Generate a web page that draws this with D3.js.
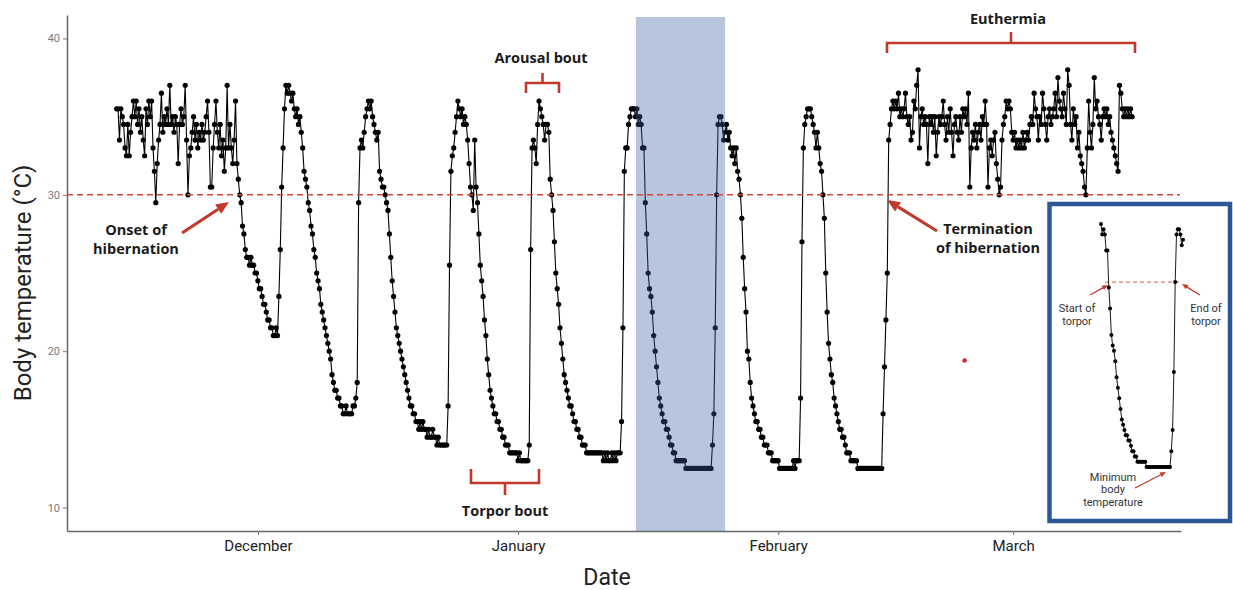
<!DOCTYPE html>
<html>
<head>
<meta charset="utf-8">
<script src="https://cdn.jsdelivr.net/npm/d3@7"></script>
<style>
    body { margin: 0; background: #fff; }
    svg text { font-family: Roboto, "Noto Sans", sans-serif; }
</style>
</head>
<body>
<div id="chart"></div>
<script>

// body temperature (°C), one reading every 4 hours
const preHibernation = [35.5,35.5,33.5,35.5,35,34.5,33,32.5,34.5,32.5,
    34,35,36,35,36,34.5,35.5,34,35,33.5,
    32.5,35.5,34.5,36,35,36,33,31.5,29.5,32,
    33.5,34.5,36.5,34,35,34.5,35.5,34.5,37,34.5,
    35,34,35,34.5,32,34.5,35.5,34.5,35,37,
    33.5,30,32.5,33,34,35,33.5,34.5,33,34,
    33.5,34.5,33.5,34,35,36,34,30.5,30.5,33,
    34.5,36,34,33,34.5,32.5,33.5,31.5,33,37,
    33,34.5,33,32,33.5,36];
const torpor1 = [32,31,30,29.5,28,27.5,26.5,26,26,25.5,
    26,25.5,25.5,25,25,24.5,24,24,23.5,23,
    23,22.5,22,22,21.5,21.5,21,21,21.5,21,
    23.5,26.5,30.5,33,35.5,37];
const arousal1 = [36.5,37,36.5,36,36.5,35.5,35,35.5,34.5,35,34,33];
const torpor2 = [31.5,31,30.5,29.5,29,28,27.5,26.5,26,25,
    24.5,24,23,22.5,22,21.5,21,20.5,20,19.5,
    18.5,18,17.5,17.5,17,17,16.5,16.5,16,16,
    16.5,16,16,16,16,16.5,16.5,17,18,29.5,33];
const arousal2 = [33.5,33,34,35,35.5,36,35.5,36,35,34.5,34,33.5,34,31.5,31,30.5,30.5];
const torpor3 = [30,29.5,29,27.5,26,24.5,23.5,22.5,21.5,21,
    20.5,20,19.5,19,18.5,18,17.5,17,16.5,16.5,
    16,16,15.5,15.5,15,15.5,15,15.5,15,15,
    14.5,15,14.5,14.5,15,14.5,14.5,14,14.5,14,
    14,14,14,14,14,16.5,25.5,31.5];
const arousal3 = [32.5,33,34,35,36,35.5,35,35.5,34.5,35,34.5,33.5,32,30.5,30,29,33.5,30.5,29.5];
const torpor4 = [27.5,25.5,24.5,23.5,22,21,19.5,18.5,17.5,17,
    16.5,16,16,15.5,15.5,15,15,14.5,14.5,14,
    14,14,13.5,13.5,13.5,13.5,13.5,13.5,13,13.5,
    13,13,13,13,13,13,14,26.5,33];
const arousal4 = [33.5,33,32,34.5,36,35.5,35,34.5,33.5,34.5,34.5,34,31,30];
const torpor5 = [29,27,25,24,23,21.5,20.5,19.5,18.5,18,
    17.5,17,16.5,16.5,16,15.5,15.5,15,15,14.5,
    14.5,14,14,14,13.5,13.5,13.5,13.5,13.5,13.5,
    13.5,13.5,13.5,13.5,13.5,13.5,13,13.5,13,13.5,
    13,13,13.5,13,13.5,13,13.5,13.5,13.5,15.5,21.5,31.5];
const arousal5 = [33,33,34.5,35,35.5,35.5,35.5,35,35.5,34.5,35,34.5,33,33];
const torpor6 = [29.5,27.5,25,24,23.5,22.5,21,20,19,18,
    17,16.5,16,15.5,15.5,15,15,14.5,14,14,
    13.5,13.5,13,13,13,13,13,13,13,12.5,
    12.5,12.5,12.5,12.5,12.5,12.5,12.5,12.5,12.5,12.5,
    12.5,12.5,12.5,12.5,12.5,12.5,12.5,12.5,14,16,21.5,30,34.5];
const arousal6 = [35,35,34.5,33.5,34,34.5,33.5,34,33,32.5,33,32,33,31.5,31];
const torpor7 = [30,28.5,26,24,22.5,20,19.5,18,17,16.5,
    16,15.5,15.5,15,15,14.5,14.5,14,14,14,
    13.5,13.5,13.5,13,13,13,13,13,12.5,12.5,
    12.5,12.5,12.5,12.5,12.5,12.5,12.5,12.5,13,12.5,
    13,13,13,17,27,33];
const arousal7 = [34.5,35,35.5,35.5,35.5,35,34.5,34,33,34,33,32,31.5];
const torpor8 = [30,28.5,25,22.5,20.5,19.5,18.5,18,17,16.5,
    16,15.5,15,15,14.5,14.5,14,13.5,13.5,13.5,
    13,13,13,13,13,12.5,12.5,12.5,12.5,12.5,
    12.5,12.5,12.5,12.5,12.5,12.5,12.5,12.5,12.5,12.5,
    12.5,12.5,12.5,16,19,22,25];
const postHibernation = [33.5,34.5,
    35.5,36,35.5,36,35.5,36.5,35,35.5,35,35.5,
    36.5,35,34.5,35,33.5,34,36,35.5,37,38,
    33,35,35.5,34.5,35,34.5,32,35,34.5,35,
    34,35,32.5,34,35,34.5,35,36,34.5,33.5,
    35,34,35.5,34,32.5,34.5,35,34,33.5,35,
    34,35.5,35,35.5,34.5,36.5,30.5,33,34,33.5,
    34.5,33,34,34.5,33.5,35,34.5,36,34.5,30.5,
    33,33.5,32.5,33.5,34,32,31,30,30.5,33.5,
    34.5,35,36,35.5,36,35.5,34,33.5,34,33,
    33.5,33,33.5,33,34,33,33.5,34,33.5,34.5,
    35,34.5,36.5,35.5,35,33.5,35,34.5,36.5,35.5,
    34.5,33.5,35,35.5,34.5,35,35.5,36.5,35,37.5,
    36,35.5,35,36.5,35.5,34.5,38,37,34.5,33.5,
    35.5,34.5,35,33,34,32.5,32,31.5,30.5,30,
    33,36,34,33,34.5,37.5,35.5,36,35,34.5,
    33.5,35,35.5,35,35.5,34.5,35,34,33.5,33,
    32.5,32,31.5,37,36.5,35.5,35,35.5,35,35.5,
    35,35.5,35];

const sampleStart = new Date(2020, 10, 14, 4);
const sampleHours = 4;
const shadedPeriod = [new Date(2021, 0, 15, 1), new Date(2021, 0, 25, 16)];
const yTicks = [10, 20, 30, 40];
const thresholdTemp = 30;
const strayPoints = [{ date: new Date(2021, 1, 23, 5), temp: 19.4 }];

let segments = [preHibernation, torpor1, arousal1, torpor2, arousal2, torpor3, arousal3,
    torpor4, arousal4, torpor5, arousal5, torpor6, arousal6, torpor7, arousal7, torpor8, postHibernation];

let series = [].concat(...segments).map((t, i) => ({
    date: new Date(sampleStart.getTime() + i * sampleHours * 3600 * 1000),
    temp: t
}));

const red = "#c0392b";
const width = 1233, height = 590;

let svg = d3.select("#chart").append("svg")
    .attr("width", width)
    .attr("height", height);

// scales
let x = d3.scaleTime()
    .domain([new Date(2020, 10, 8, 6), new Date(2021, 2, 21)])
    .range([67, 1181]);
let y = d3.scaleLinear()
    .domain([8.5, 41.5])
    .range([531, 15]);

// axes
let xAxis = d3.axisBottom(x)
    .ticks(d3.timeMonth.every(1))
    .tickFormat(d3.timeFormat("%B"))
    .tickSize(4)
    .tickSizeOuter(0)
    .tickPadding(5);
let yAxis = d3.axisLeft(y)
    .tickValues(yTicks)
    .tickSize(4)
    .tickSizeOuter(0)
    .tickPadding(3);

let gx = svg.append("g")
    .attr("transform", "translate(0," + y.range()[0] + ")")
    .call(xAxis);
gx.selectAll("text").attr("font-size", 15).attr("fill", "#222");

let gy = svg.append("g")
    .attr("transform", "translate(" + x.range()[0] + ",0)")
    .call(yAxis);
gy.selectAll("text").attr("font-size", 11).attr("fill", "#7a7a7a");

svg.selectAll(".domain").attr("stroke", "#666").attr("stroke-width", 1.5);
svg.selectAll(".tick line").attr("stroke", "#777");

svg.append("text")
    .attr("x", 607).attr("y", 577)
    .attr("text-anchor", "middle").attr("dominant-baseline", "central")
    .attr("font-size", 23).attr("fill", "#222")
    .text("Date");
svg.append("text")
    .attr("transform", "translate(23,283) rotate(-90)")
    .attr("text-anchor", "middle").attr("dominant-baseline", "central")
    .attr("font-size", 24).attr("fill", "#222")
    .text("Body temperature (°C)");

// data line + points
const line = d3.line()
    .x(d => x(d.date))
    .y(d => y(d.temp));

svg.append("path")
    .datum(series)
    .attr("d", line)
    .attr("fill", "none")
    .attr("stroke", "#000")
    .attr("stroke-width", 1.1);

svg.append("g").selectAll("circle")
    .data(series)
    .enter()
    .append("circle")
    .attr("cx", d => x(d.date))
    .attr("cy", d => y(d.temp))
    .attr("r", 2.6)
    .attr("fill", "#000");

// highlighted torpor bout
svg.append("rect")
    .attr("x", x(shadedPeriod[0]))
    .attr("y", y(41.37))
    .attr("width", x(shadedPeriod[1]) - x(shadedPeriod[0]))
    .attr("height", y.range()[0] - y(41.37))
    .attr("fill", "rgb(56,97,160)")
    .attr("fill-opacity", 0.36);

// 30 °C threshold
svg.append("line")
    .attr("x1", x.range()[0]).attr("x2", 1180)
    .attr("y1", y(thresholdTemp)).attr("y2", y(thresholdTemp))
    .attr("stroke", "#d9443a")
    .attr("stroke-width", 1.4)
    .attr("stroke-dasharray", "6,4");

svg.selectAll(".stray")
    .data(strayPoints)
    .enter()
    .append("circle")
    .attr("cx", d => x(d.date))
    .attr("cy", d => y(d.temp))
    .attr("r", 2.2)
    .attr("fill", "#e02020");

// helpers for annotations
function arrow(g, x1, y1, x2, y2, w, headLen, headW, color) {
    let a = Math.atan2(y2 - y1, x2 - x1);
    let bx = x2 - headLen * Math.cos(a), by = y2 - headLen * Math.sin(a);
    g.append("line")
        .attr("x1", x1).attr("y1", y1).attr("x2", bx).attr("y2", by)
        .attr("stroke", color).attr("stroke-width", w);
    let px = -Math.sin(a) * headW / 2, py = Math.cos(a) * headW / 2;
    g.append("polygon")
        .attr("points", [[x2, y2], [bx + px, by + py], [bx - px, by - py]].map(p => p.join(",")).join(" "))
        .attr("fill", color);
}

function label(g, lines, cx, cy, size, lh, weight, family, color) {
    lines.forEach((t, i) => {
        g.append("text")
            .attr("x", cx).attr("y", cy + i * lh)
            .attr("text-anchor", "middle").attr("dominant-baseline", "central")
            .attr("font-size", size).attr("font-weight", weight)
            .style("font-family", family)
            .attr("fill", color)
            .text(t);
    });
}

function bracket(g, x1, x2, yb, tipLen, stemLen) {
    let xm = (x1 + x2) / 2;
    g.append("path")
        .attr("d", "M" + x1 + "," + (yb + tipLen) + "V" + yb + "H" + x2 + "V" + (yb + tipLen)
            + "M" + xm + "," + yb + "V" + (yb - stemLen))
        .attr("fill", "none")
        .attr("stroke", red)
        .attr("stroke-width", 2.6);
}

let ann = svg.append("g");
const boldFont = "'Open Sans', sans-serif";

label(ann, ["Onset of", "hibernation"], 136, 229, 14.5, 19, 700, boldFont, "#1a1a1a");
arrow(ann, 182, 233, 229, 202, 3, 13, 11, red);

label(ann, ["Termination", "of hibernation"], 988, 228, 14.5, 19, 700, boldFont, "#1a1a1a");
arrow(ann, 937, 231, 887, 200, 3, 13, 11, red);

label(ann, ["Euthermia"], 1008, 18, 14.5, 19, 700, boldFont, "#1a1a1a");
bracket(ann, 887, 1135, 43, 10, 11);

label(ann, ["Arousal bout"], 541, 57, 14.5, 19, 700, boldFont, "#1a1a1a");
bracket(ann, 526, 559, 83, 10, 10);

label(ann, ["Torpor bout"], 505, 510, 14.5, 19, 700, boldFont, "#1a1a1a");
bracket(ann, 471, 539, 483, -14, -12);

// inset: close-up of the highlighted bout
let inset = svg.append("g");
inset.append("rect")
    .attr("x", 1049.5).attr("y", 204)
    .attr("width", 180.5).attr("height", 317)
    .attr("fill", "#fff")
    .attr("stroke", "#2c5796")
    .attr("stroke-width", 4.5);

let ix = d3.scaleTime().domain(shadedPeriod).range([1100, 1183]);
let iy = d3.scaleLinear().domain([12.5, 35.5]).range([467, 224]);
let boutData = series.filter(d => d.date >= shadedPeriod[0] && d.date <= shadedPeriod[1]);

inset.append("line")
    .attr("x1", 1105).attr("x2", 1180)
    .attr("y1", iy(thresholdTemp)).attr("y2", iy(thresholdTemp))
    .attr("stroke", "#e07a72")
    .attr("stroke-width", 1.2)
    .attr("stroke-dasharray", "4,3");

inset.append("path")
    .datum(boutData)
    .attr("d", d3.line().x(d => ix(d.date)).y(d => iy(d.temp)))
    .attr("fill", "none")
    .attr("stroke", "#000")
    .attr("stroke-width", 0.9);

inset.selectAll("circle")
    .data(boutData)
    .enter()
    .append("circle")
    .attr("cx", d => ix(d.date))
    .attr("cy", d => iy(d.temp))
    .attr("r", 2)
    .attr("fill", "#000");

label(inset, ["Start of", "torpor"], 1077, 308, 11, 13.5, 400, "Roboto, sans-serif", "#333");
arrow(inset, 1090, 295, 1108, 285, 1.3, 6, 5, red);
label(inset, ["End of", "torpor"], 1206, 308, 11, 13.5, 400, "Roboto, sans-serif", "#333");
arrow(inset, 1200, 295, 1182, 284, 1.3, 6, 5, red);
label(inset, ["Minimum", "body", "temperature"], 1113, 477, 11, 12.5, 400, "Roboto, sans-serif", "#333");
arrow(inset, 1135, 488, 1166, 472, 1.3, 6, 5, red);

</script>
</body>
</html>
